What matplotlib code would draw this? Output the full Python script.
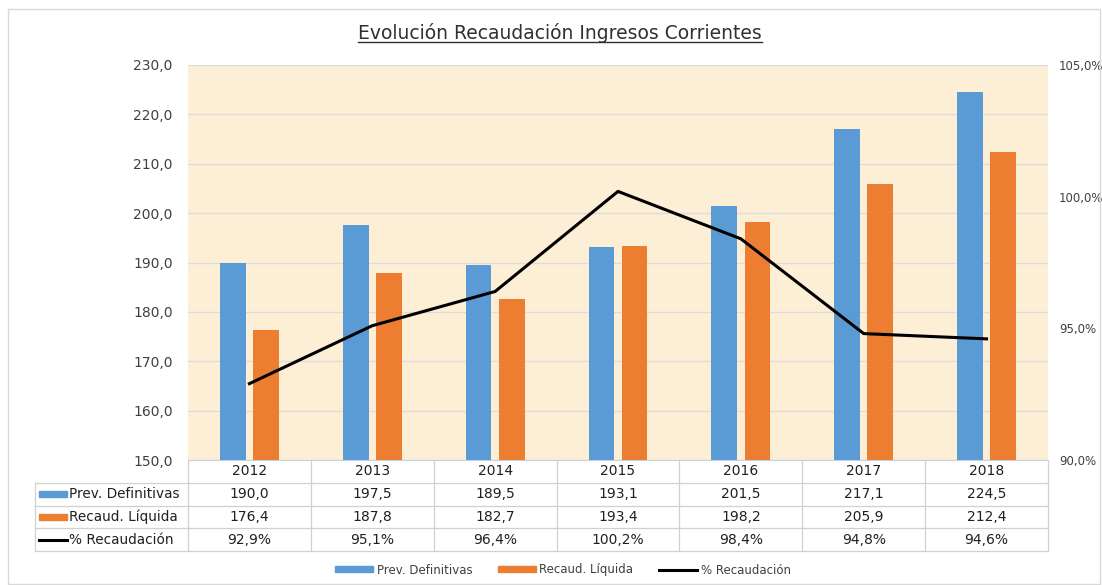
import numpy as np
import matplotlib
matplotlib.use("Agg")
import matplotlib.pyplot as plt
from matplotlib.lines import Line2D
from matplotlib.patches import Rectangle

plt.rcParams["font.family"] = ["DejaVu Sans"]

years = ["2012", "2013", "2014", "2015", "2016", "2017", "2018"]
prev_def = [190.0, 197.5, 189.5, 193.1, 201.5, 217.1, 224.5]
recaud = [176.4, 187.8, 182.7, 193.4, 198.2, 205.9, 212.4]
pct = [92.9, 95.1, 96.4, 100.2, 98.4, 94.8, 94.6]
names = ["Prev. Definitivas", "Recaud. Líquida", "% Recaudación"]

blue = "#5B9BD5"
orange = "#ED7D31"
grid_c = "#DCDCDC"
txt_c = "#404040"

W, H = 1102, 585
fig = plt.figure(figsize=(W / 100, H / 100), dpi=100, facecolor="white")


def fx(px):
    return px / W


def fy(py):
    return 1 - py / H


# outer frame
fig.add_artist(Rectangle((fx(8), fy(584)), fx(1100) - fx(8), fy(9) - fy(584),
                         transform=fig.transFigure, fill=False, ec="#D9D9D9", lw=1))

L, R, T, B = 188, 1048, 65, 460
ax = fig.add_axes([fx(L), fy(B), fx(R) - fx(L), fy(T) - fy(B)])
ax.set_facecolor("#FDEED6")
x = np.arange(len(years))
ax.bar(x - 0.135, prev_def, width=0.21, color=blue, zorder=3)
ax.bar(x + 0.135, recaud, width=0.21, color=orange, zorder=3)
ax.set_xlim(-0.5, 6.5)
ax.set_ylim(150, 230)
ax.set_yticks(np.arange(150, 231, 10))
ax.set_yticklabels([f"{v:.1f}".replace(".", ",") for v in np.arange(150, 231, 10)],
                   fontsize=10, color=txt_c)
ax.set_xticks([])
ax.tick_params(axis="y", length=0, pad=11)
ax.grid(axis="y", color=grid_c, lw=0.9, zorder=0)
for s in ["top", "right", "left"]:
    ax.spines[s].set_visible(False)
ax.spines["bottom"].set_color("#C5D3E0")

ax2 = ax.twinx()
ax2.plot(x, pct, color="black", lw=2.2, zorder=5)
ax2.set_ylim(90, 105)
ax2.set_yticks([90, 95, 100, 105])
ax2.set_yticklabels([f"{v:.1f}%".replace(".", ",") for v in [90, 95, 100, 105]],
                    fontsize=8.5, color=txt_c)
ax2.tick_params(axis="y", length=0, pad=8)
for s in ax2.spines.values():
    s.set_visible(False)

# data table under the chart
TL, TB = 35, 551
unit = (R - L) / 7
tab = fig.add_axes([fx(TL), fy(TB), fx(R) - fx(TL), fy(B) - fy(TB)])
x0 = -0.5 - (L - TL) / unit
tab.set_xlim(x0, 6.5)
tab.set_ylim(4, 0)
tab.axis("off")
line_c = "#D0D0D0"
for r in range(1, 5):
    tab.plot([x0, 6.5], [r, r], color=line_c, lw=0.9, clip_on=False)
tab.plot([x0, x0], [1, 4], color=line_c, lw=0.9, clip_on=False)
for k in range(8):
    tab.plot([k - 0.5, k - 0.5], [0, 4], color=line_c, lw=0.9, clip_on=False)
for i, yr in enumerate(years):
    tab.text(i, 0.5, yr, ha="center", va="center", fontsize=10, color="#202020")
    tab.text(i, 1.5, f"{prev_def[i]:.1f}".replace(".", ","), ha="center", va="center",
             fontsize=10, color="#202020")
    tab.text(i, 2.5, f"{recaud[i]:.1f}".replace(".", ","), ha="center", va="center",
             fontsize=10, color="#202020")
    tab.text(i, 3.5, f"{pct[i]:.1f}%".replace(".", ","), ha="center", va="center",
             fontsize=10, color="#202020")
kx0 = x0 + 4 / unit
kx1 = x0 + 32 / unit
tab.add_patch(Rectangle((kx0, 1.38), kx1 - kx0, 0.24, color=blue, clip_on=False))
tab.add_patch(Rectangle((kx0, 2.38), kx1 - kx0, 0.24, color=orange, clip_on=False))
tab.plot([kx0, kx1], [3.5, 3.5], color="black", lw=2.2, clip_on=False)
for j, nm in enumerate(names):
    tab.text(kx1 + 2 / unit, 1.5 + j, nm, ha="left", va="center", fontsize=9.8,
             color="#202020")

# legend
handles = [Rectangle((0, 0), 1, 1, color=blue), Rectangle((0, 0), 1, 1, color=orange),
           Line2D([], [], color="black", lw=2.2)]
fig.legend(handles, names, loc="center", bbox_to_anchor=(fx(563), fy(570)), ncol=3,
           frameon=False, fontsize=8.5, handlelength=3.2, handleheight=0.45,
           columnspacing=2.2, handletextpad=0.3, labelcolor=txt_c)

# underlined title
title = fig.text(fx(560), fy(33), "Evolución Recaudación Ingresos Corrientes",
                 ha="center", va="center", fontsize=13.5, color="#303030")
fig.canvas.draw()
bb = title.get_window_extent().transformed(fig.transFigure.inverted())
fig.add_artist(Line2D([bb.x0, bb.x1], [bb.y0 + 0.002, bb.y0 + 0.002],
                      transform=fig.transFigure, color="#303030", lw=1))

fig.savefig("out.png", dpi=100, facecolor="white")
